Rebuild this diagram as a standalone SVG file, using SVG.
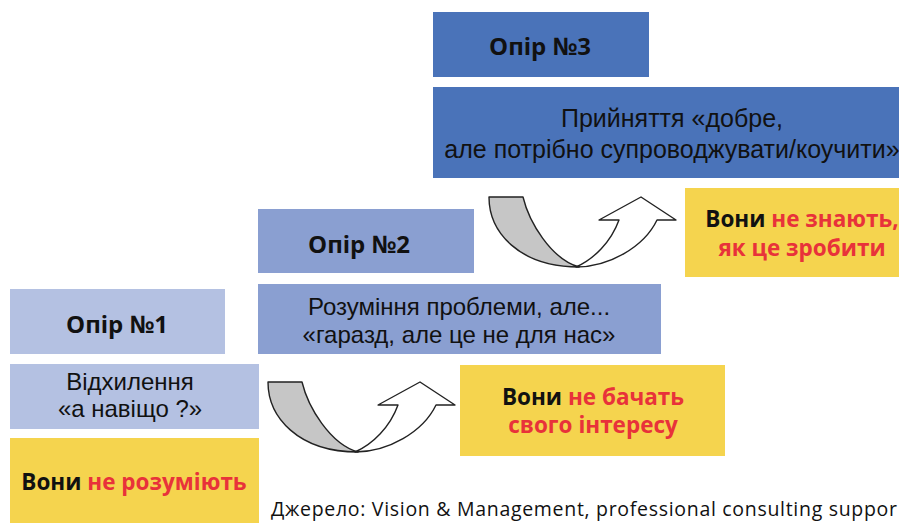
<svg xmlns="http://www.w3.org/2000/svg" width="899" height="523" viewBox="0 0 899 523">
<defs>
<style>
.t{font-family:"Open Sans","Noto Sans","Liberation Sans",sans-serif;fill:#111;text-anchor:middle}
.h{font-weight:bold;font-size:24px}
.r{font-family:"Liberation Sans","Open Sans",sans-serif;font-size:24px}
.r3{font-family:"Liberation Sans","Open Sans",sans-serif;font-size:25px}
.y{font-weight:bold;font-size:22.5px}
.red{fill:#e8323a}
.c1{fill:#b4c1e2}
.c2{fill:#8a9fd1}
.c3{fill:#4a73b9}
.ye{fill:#f5d44e}
.g{fill:#c6c6c6;stroke:#222;stroke-width:1.4;stroke-linejoin:round}
.w{fill:#fff;stroke:#222;stroke-width:1.4;stroke-linejoin:round}
</style>
<g id="arrowShape">
<path class="w" d="M87,70 C120,70 155,50 168,23 L187,23 L152,0 L110,23 L130,23 C122,45 105,62 87,70 Z"/>
<path class="g" d="M0,0 L34,0 C40,25 62,62 90,70 C30,70 0,35 0,0 Z"/>
</g>
</defs>
<rect width="899" height="523" fill="#fff"/>

<g id="n1">
<rect class="c1" x="10" y="289" width="215" height="65"/>
<text class="t h" x="117" y="333">Опір №1</text>
</g>
<g id="n1d">
<rect class="c1" x="10" y="364" width="249" height="65"/>
<text class="t r" x="130" y="390">Відхилення</text>
<text class="t r" x="130" y="417">«а навіщо ?»</text>
</g>
<g id="n1y">
<rect class="ye" x="10" y="438" width="249" height="90"/>
<text class="t y" x="134" y="490">Вони <tspan class="red">не розуміють</tspan></text>
</g>

<g id="n2">
<rect class="c2" x="258" y="209" width="216" height="64"/>
<text class="t h" x="359" y="253">Опір №2</text>
</g>
<g id="n2d">
<rect class="c2" x="258" y="284" width="403" height="70"/>
<text class="t r" x="459" y="315">Розуміння проблеми, але...</text>
<text class="t r" x="459" y="343">«гаразд, але це не для нас»</text>
</g>
<g id="n2y">
<rect class="ye" x="460" y="365" width="265" height="91"/>
<text class="t y" x="593" y="405">Вони <tspan class="red">не бачать</tspan></text>
<text class="t y red" x="593" y="433">свого інтересу</text>
</g>

<g id="n3">
<rect class="c3" x="433" y="12" width="216" height="65"/>
<text class="t h" x="540" y="55">Опір №3</text>
</g>
<g id="n3d">
<rect class="c3" x="433" y="87" width="480" height="91"/>
<text class="t r3" x="672" y="127">Прийняття «добре,</text>
<text class="t r3" x="672" y="158">але потрібно супроводжувати/коучити»</text>
</g>
<g id="n3y">
<rect class="ye" x="685" y="188" width="234" height="89"/>
<text class="t y" x="802" y="227">Вони <tspan class="red">не знають,</tspan></text>
<text class="t y red" x="802" y="256">як це зробити</text>
</g>

<g id="connectors">
<use href="#arrowShape" transform="translate(268,382)"/>
<use href="#arrowShape" transform="translate(489,197)"/>
</g>

<text class="t" style="text-anchor:start;font-size:19.5px" x="271" y="516" textLength="626" lengthAdjust="spacing">Джерело: Vision &amp; Management, professional consulting suppor</text>
</svg>
